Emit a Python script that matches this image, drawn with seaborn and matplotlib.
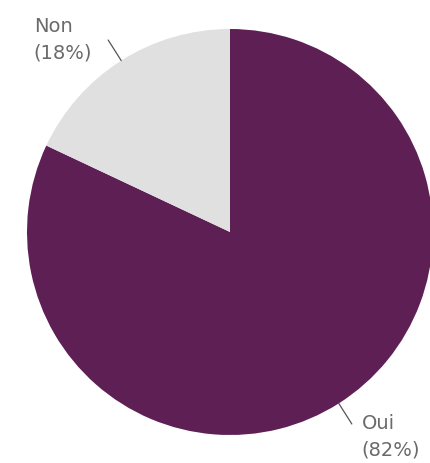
import numpy as np
import matplotlib.pyplot as plt
import seaborn as sns

labels = ["Oui", "Non"]
shares = [82, 18]
colors = ["#5e1f55", "#e0e0e0"]

sns.set_style("white")
plt.rcParams['font.family'] = ['DejaVu Sans']

fig = plt.figure(figsize=(4.3, 4.63), dpi=100)
W, H = 430, 463
cx, cy, r = 230, 232, 203
ax = fig.add_axes([(cx - r) / W, (H - cy - r) / H, 2 * r / W, 2 * r / H])

wedges, _ = ax.pie(shares, colors=colors, startangle=90, counterclock=False,
                   radius=1, wedgeprops=dict(linewidth=0))
ax.set_xlim(-1, 1)
ax.set_ylim(-1, 1)
ax.set_aspect('equal')
ax.axis('off')

# text offsets (pixels) from the end of each leader line
offsets = {"Oui": (10, -13, "left"), "Non": (-16, 0, "right")}

for w, lab, val in zip(wedges, labels, shares):
    ang = np.deg2rad((w.theta1 + w.theta2) / 2)
    x0, y0 = np.cos(ang) * 1.0, np.sin(ang) * 1.0
    x1, y1 = np.cos(ang) * 1.12, np.sin(ang) * 1.12
    ax.plot([x0, x1], [y0, y1], color="#555555", lw=0.9, clip_on=False)
    dx, dy, ha = offsets[lab]
    ax.annotate(f"{lab}\n({val}%)", xy=(x1, y1), xytext=(dx, dy),
                textcoords="offset pixels", ha=ha, va="center", multialignment="left",
                fontsize=14, color="#6a6a6a", linespacing=1.5,
                annotation_clip=False)

fig.savefig("out.png", dpi=100)
